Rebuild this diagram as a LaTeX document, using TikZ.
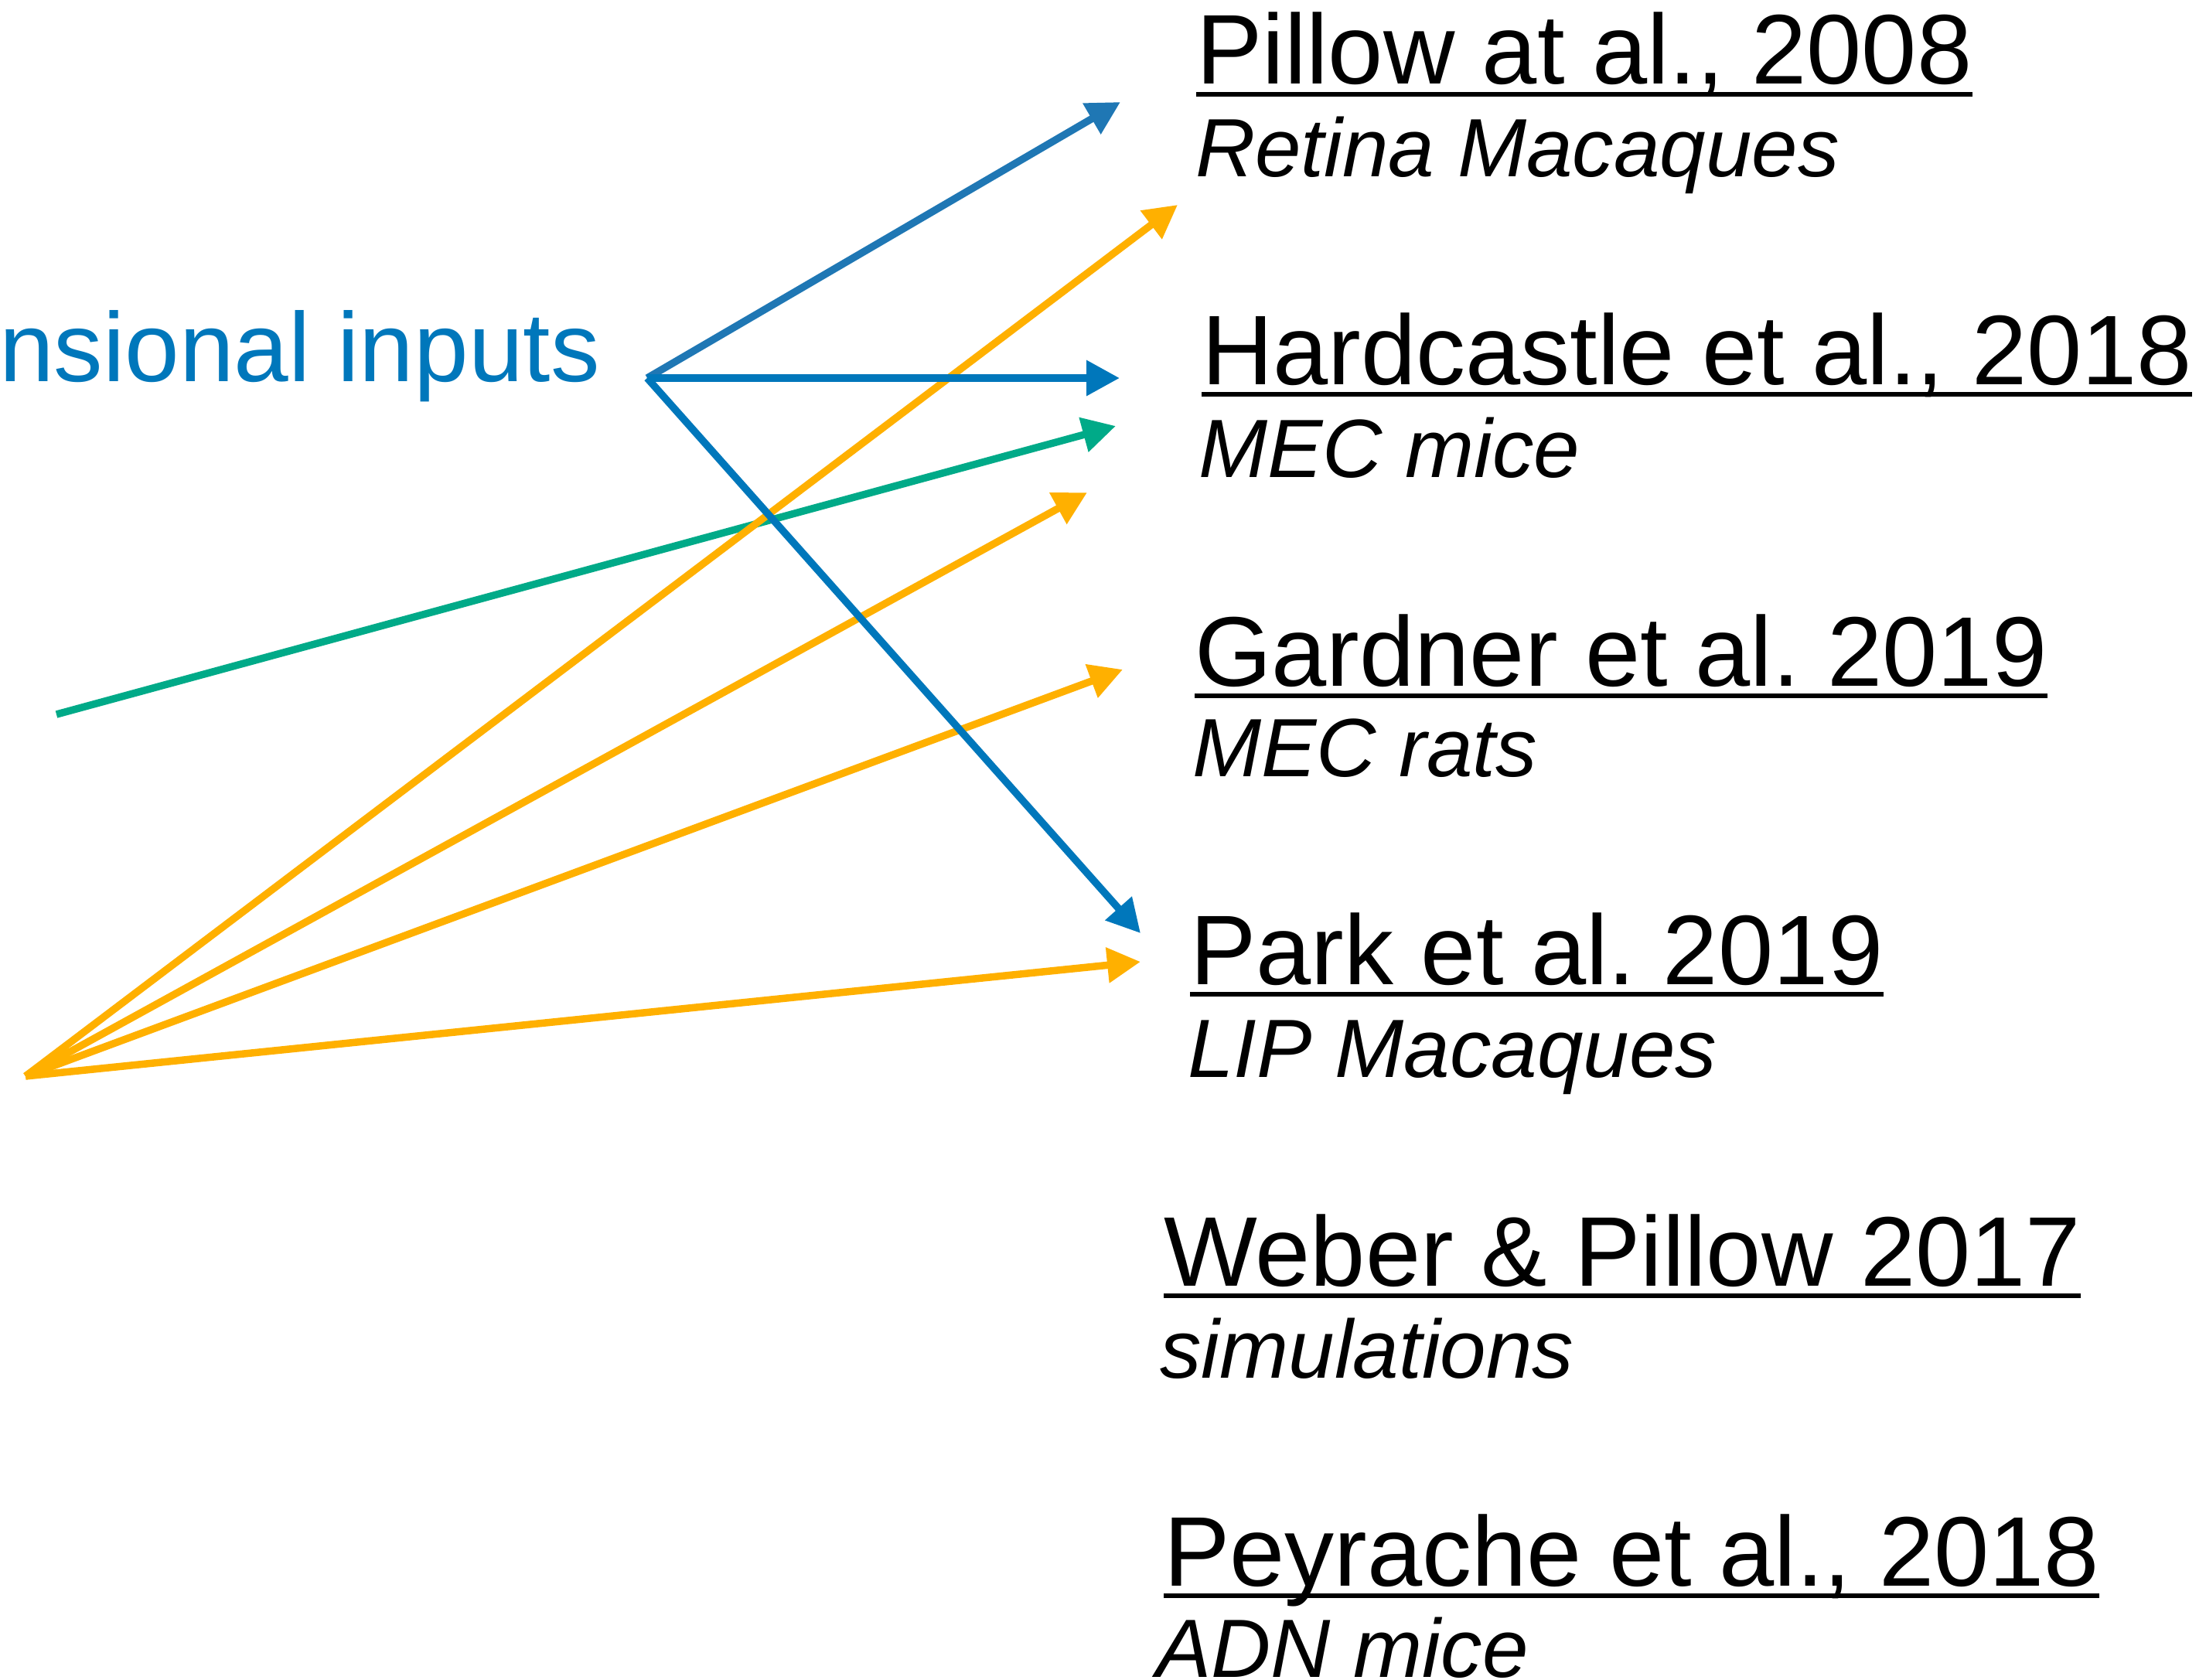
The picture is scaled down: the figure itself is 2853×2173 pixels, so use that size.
\documentclass[tikz,border=0pt]{standalone}
\usepackage{fontspec}
\setmainfont{Liberation Sans}
\usetikzlibrary{arrows.meta}
\definecolor{tblue}{HTML}{0077BB}
\definecolor{lblue}{HTML}{1F77B4}
\definecolor{ora}{HTML}{FFB000}
\definecolor{grn}{HTML}{00AA88}
\tikzset{
  reftitle/.style={anchor=base west, inner sep=0pt, font=\fontsize{128}{150}\selectfont},
  refsub/.style={anchor=base west, inner sep=0pt, font=\fontsize{107}{125}\selectfont\itshape},
  uline/.style={line width=5.5pt},
  conn/.style={line width=9.5pt, -{Triangle[length=43pt,width=44pt]}},
}
\frenchspacing
\begin{document}
\begin{tikzpicture}[x=1pt,y=-1pt]
\useasboundingbox (0,0) rectangle (2853,2173);

% left label (clipped at the picture edge)
\node[anchor=base east, inner sep=0pt, text=tblue, font=\fontsize{127}{150}\selectfont] (inp) at (776,493) {nsional inputs};

% references
\node[reftitle] (t1) at (1547,109) {Pillow at al., 2008};
\node[refsub]   (s1) at (1546,228) {Retina Macaques};
\node[reftitle] (t2) at (1554,497) {Hardcastle et al., 2018};
\node[refsub]   (s2) at (1550,617) {MEC mice};
\node[reftitle] (t3) at (1545,887) {Gardner et al. 2019};
\node[refsub]   (s3) at (1542,1004) {MEC rats};
\node[reftitle] (t4) at (1539,1273) {Park et al. 2019};
\node[refsub]   (s4) at (1536,1393) {LIP Macaques};
\node[reftitle] (t5) at (1505,1663) {Weber \& Pillow 2017};
\node[refsub]   (s5) at (1500,1782) {simulations};
\node[reftitle] (t6) at (1505,2051) {Peyrache et al., 2018};
\node[refsub]   (s6) at (1495,2169) {ADN mice};

\foreach \t in {t1,t2,t3,t4,t5,t6}{
  \draw[uline] ([yshift=-13pt]\t.base west) -- ([yshift=-13pt]\t.base east);
}

% sources and tips
\coordinate (bsrc) at (837,489);
\coordinate (gsrc) at (73,924);
\coordinate (osrc) at (33,1392);
\coordinate (b1) at (1449,132);
\coordinate (b2) at (1448,489);
\coordinate (b3) at (1475,1207);
\coordinate (g1) at (1443,551);
\coordinate (o1) at (1523,265);
\coordinate (o2) at (1406,637);
\coordinate (o3) at (1452,866);
\coordinate (o4) at (1475,1244);

\draw[conn, grn] (gsrc) -- (g1);
\draw[conn, ora] (osrc) -- (o1);
\draw[conn, ora] (osrc) -- (o2);
\draw[conn, ora] (osrc) -- (o3);
\draw[conn, ora] (osrc) -- (o4);
\draw[conn, lblue] (bsrc) -- (b1);
\draw[conn, tblue] (bsrc) -- (b2);
\draw[conn, tblue] (bsrc) -- (b3);
\end{tikzpicture}
\end{document}
